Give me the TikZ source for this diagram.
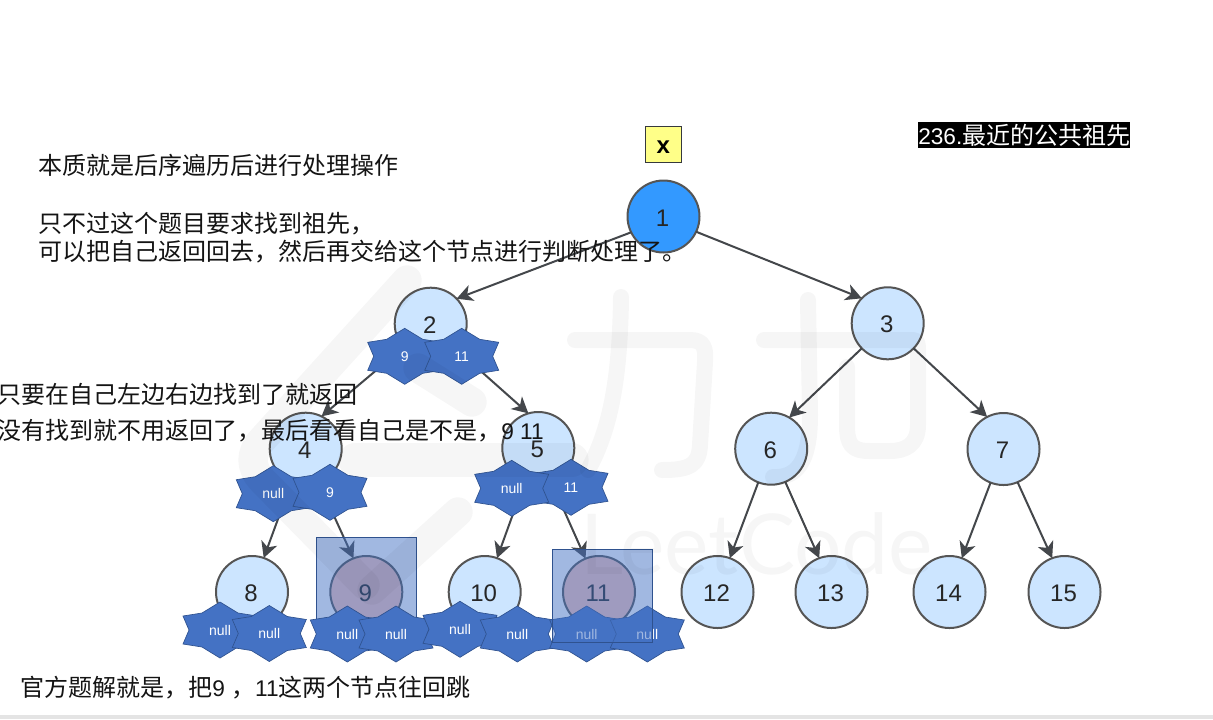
\documentclass[tikz,border=0pt]{standalone}
\usepackage{fontspec}
\usetikzlibrary{arrows.meta}
\setmainfont{Liberation Sans}
\newfontfamily\cjk{Noto Sans CJK SC}
\newfontfamily\wmfont{Lato}
\definecolor{nodefill}{HTML}{CCE5FF}
\definecolor{rootfill}{HTML}{3399FF}
\definecolor{pinkfill}{HTML}{FBC6BA}
\definecolor{nodeline}{HTML}{555555}
\definecolor{edgeline}{HTML}{44474B}
\definecolor{starblue}{HTML}{4472C4}
\definecolor{starline}{HTML}{2F528F}
\definecolor{noteyellow}{HTML}{FFFF88}
\definecolor{notedark}{HTML}{36393D}
\definecolor{barline}{HTML}{E4E4E4}
\newcommand{\bigsize}{\fontsize{18pt}{21pt}\selectfont}
\newcommand{\latsize}{\fontsize{17pt}{21pt}\selectfont}
\newcommand{\hz}[1]{{\cjk\bigsize #1}}
\newcommand{\lbl}[1]{\kern-1.5pt#1}
\newcommand{\starnode}[4]{%
  \path[starshape,shift={(#2,#3)}] (0,-28) -- (18,-17) -- (37,-14) -- (31,0) -- (37,14) -- (18,17) -- (0,28)
    -- (-18,17) -- (-37,14) -- (-31,0) -- (-37,-14) -- (-18,-17) -- cycle;
  \node[starlabel] (#1) at (#2,#3) {#4};}
\tikzset{
  treenode/.style={circle,draw=nodeline,fill=nodefill,line width=1.5pt,minimum size=54pt,inner sep=0pt,outer sep=0pt,text height=14.5pt,text depth=0pt,font=\fontsize{18pt}{20pt}\selectfont,text=black!85},
  edgeline/.style={draw=edgeline,line width=1.5pt,-{Stealth[length=12pt,width=12.5pt,inset=3.5pt]}},
  starshape/.style={fill=starblue,draw=starline,line width=.5pt,line join=miter},
  starlabel/.style={text=white,inner sep=0pt,font=\fontsize{10.5pt}{12pt}\selectfont},
  hlbox/.style={rectangle,draw=starline,line width=.8pt,fill=starblue,fill opacity=.5,minimum width=75.3pt,inner sep=0pt,outer sep=0pt},
  notebox/.style={rectangle,draw=notedark,fill=noteyellow,line width=1.2pt,minimum size=27pt,inner sep=0pt,text height=13.8pt,text depth=0pt,font=\bfseries\fontsize{18pt}{20pt}\selectfont},
  wm/.style={draw=black,draw opacity=.035,line cap=round,line join=round},
  txt/.style={anchor=west,inner sep=0pt,text=black!92,font=\latsize},
}
\begin{document}
\begin{tikzpicture}[x=.75pt,y=-.75pt]
\useasboundingbox (0,0) rectangle (1213,719);
\fill[white] (0,0) rectangle (1213,719);
\fill[barline] (0,715) rectangle (1213,719);

% tree nodes
\node[treenode,fill=rootfill] (n1) at (663.5,216.5) {\lbl{1}};
\node[treenode] (n2) at (430.7,323.7) {\lbl{2}};
\node[treenode] (n3) at (887.7,323.3) {\lbl{3}};
\node[treenode] (n4) at (305.7,448.7) {\lbl{4}};
\node[treenode] (n5) at (538.3,448) {\lbl{5}};
\node[treenode] (n6) at (771.2,448.7) {\lbl{6}};
\node[treenode] (n7) at (1003.5,449) {\lbl{7}};
\node[treenode] (n8) at (252,592) {\lbl{8}};
\node[treenode,fill=pinkfill] (n9) at (366.3,592) {\lbl{9}};
\node[treenode] (n10) at (484.7,592) {\lbl{10}};
\node[treenode,fill=pinkfill] (n11) at (599,592) {\lbl{11}};
\node[treenode] (n12) at (717.5,592) {\lbl{12}};
\node[treenode] (n13) at (831.5,592) {\lbl{13}};
\node[treenode] (n14) at (949.5,592) {\lbl{14}};
\node[treenode] (n15) at (1064.5,592) {\lbl{15}};

% connectors
\draw[edgeline] (n1.206) -- (n2.44);
\draw[edgeline] (n1.-25.5) -- (n3.136);
\draw[edgeline] (n2.221.6) -- (n4.64.6);
\draw[edgeline] (n2.-45) -- (n5.106);
\draw[edgeline] (n3.224) -- (n6.60.8);
\draw[edgeline] (n3.-44) -- (n7.117.9);
\draw[edgeline] (n4.247.6) -- (n8.71.6);
\draw[edgeline] (n4.-69) -- (n9.111);
\draw[edgeline] (n5.248.6) -- (n10.70.7);
\draw[edgeline] (n5.-69.5) -- (n11.112);
\draw[edgeline] (n6.249.6) -- (n12.70.5);
\draw[edgeline] (n6.-67.9) -- (n13.110.5);
\draw[edgeline] (n7.249.6) -- (n14.70.5);
\draw[edgeline] (n7.-67.9) -- (n15.110.5);

% highlight behind the stars
\node[hlbox,minimum height=74.8pt] (boxa) at (366.5,587.2) {};

% stars
\starnode{sa}{404.7}{356.3}{9}
\starnode{sb}{461.7}{356.3}{11}
\starnode{sc}{273.3}{493.7}{null}
\starnode{sd}{330}{492.3}{9}
\starnode{sf}{571}{487.3}{11}
\starnode{se}{511.7}{488.3}{null}
\starnode{sg}{220}{630}{null}
\starnode{sh}{269.3}{633.5}{null}
\starnode{si}{347.3}{634}{null}
\starnode{sj}{396}{634}{null}
\starnode{sk}{460}{629.3}{null}
\starnode{sl}{517.3}{634}{null}
\starnode{sm}{586.7}{634}{null}
\starnode{sn}{647.3}{634}{null}

% highlight above the stars
\node[hlbox,minimum height=69.75pt] (boxb) at (602.5,595.8) {};

% watermark
\draw[wm,line width=22pt] (407,280) -- (262,440) .. controls (250,453) and (250,467) .. (262,480) -- (365,585);
\draw[wm,line width=22pt] (372,590) -- (458,512);
\draw[wm,line width=22pt] (418,368) -- (472,402);
\draw[wm,line width=25pt] (355,460) -- (572,460);
\draw[wm,line width=12pt] (575,340) -- (690,340) .. controls (704,340) and (706,348) .. (705,362) -- (700,445) .. controls (699,465) and (690,470) .. (662,470);
\draw[wm,line width=12pt] (621,297) .. controls (620,380) and (610,430) .. (588,470);
\draw[wm,line width=12pt] (764,340) -- (845,340) -- (913,340) .. controls (918,340) and (918,345) .. (918,350) -- (918,425) .. controls (918,445) and (905,451) .. (890,451) -- (870,451) .. controls (852,451) and (847,445) .. (847,425) -- (847,367);
\draw[wm,line width=12pt] (808,300) -- (810,415) .. controls (810,465) and (795,478) .. (773,477);
\node[inner sep=0pt,anchor=base west,text=black,text opacity=.035,font=\wmfont\fontsize{63pt}{70pt}\selectfont] (wmtext) at (580,574) {LeetCode};

% yellow note
\node[notebox] (note) at (663.3,144.3) {x};

% texts
\node[txt] (t1) at (38,165) {\hz{本质就是后序遍历后进行处理操作}};
\node[txt] (t2) at (38,224) {\hz{只不过这个题目要求找到祖先，}};
\node[txt] (t3) at (38,252) {\hz{可以把自己返回回去，然后再交给这个节点进行判断处理了。}};
\node[txt] (t4) at (-3,394) {\hz{只要在自己左边右边找到了就返回}};
\node[txt] (t5) at (-3,431) {\hz{没有找到就不用返回了，最后看看自己是不是，}9 11};
\node[txt] (t6) at (20,688) {\hz{官方题解就是，把}9 \hz{，}11\hz{这两个节点往回跳}};
\node[anchor=west,inner sep=0pt,fill=black,text=white,minimum height=19.5pt,minimum width=158pt,align=left,font=\latsize] (title) at (918,135) {236.\hz{最近的公共祖先}};
\end{tikzpicture}
\end{document}
